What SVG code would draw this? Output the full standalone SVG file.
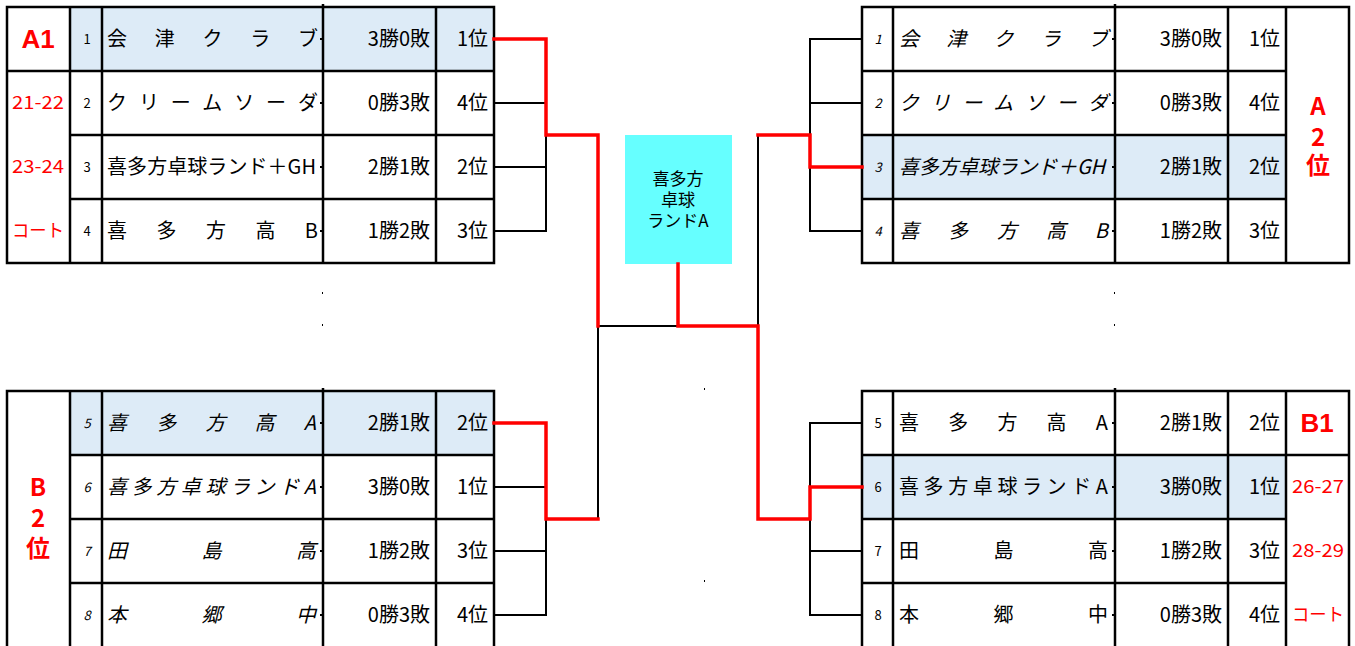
<svg xmlns="http://www.w3.org/2000/svg" width="1355" height="646" viewBox="0 0 1355 646">
<style>
.bg{fill:#FFFFFF}
.hl{fill:#DDEBF7}
.grid{stroke:#000;stroke-width:2.5;fill:none}
.c{stroke:#000;stroke-width:2;fill:none;stroke-linecap:square}
.r{stroke:#FF0000;stroke-width:3.5;fill:none;stroke-linecap:square;stroke-linejoin:miter}
.tick{fill:#000}
text{font-family:"Noto Sans CJK JP","Noto Sans",sans-serif;fill:#000}
.num{font-size:13px;text-anchor:middle}
.name{font-size:20px}
.res{font-size:20px;text-anchor:end}
.it{font-style:italic}
.big{font-size:24px;font-weight:bold;text-anchor:middle;fill:#FF0000}
.lbl{font-family:"Liberation Sans",Arial,sans-serif;font-size:26px;font-weight:bold;text-anchor:middle;fill:#FF0000}
.small{font-size:18px;text-anchor:middle;fill:#FF0000}
.box{fill:#66FFFF}
.boxt{font-size:17px;text-anchor:middle}
</style>
<rect class="bg" x="0" y="0" width="1355" height="646"/>

<g id="table-a-left">
  <rect class="hl" x="70" y="7" width="424" height="64"/>
  <rect class="grid" x="7" y="7" width="487" height="256"/>
  <path class="grid" d="M70 7V263M102 7V263M323 4V263M436 7V263M7 71H494M70 135H494M70 199H494"/>
  <g class="tick"><rect x="320" y="38" width="2" height="2"/><rect x="320" y="102" width="2" height="2"/><rect x="320" y="166" width="2" height="2"/><rect x="320" y="230" width="2" height="2"/></g>
  <text x="38" y="48" class="lbl">A1</text>
  <text x="38" y="109" class="small" textLength="52" lengthAdjust="spacingAndGlyphs">21-22</text>
  <text x="38" y="173" class="small" textLength="52" lengthAdjust="spacingAndGlyphs">23-24</text>
  <text x="38" y="237" class="small" textLength="52" lengthAdjust="spacingAndGlyphs">コート</text>
  <text x="87" y="44" class="num">1</text>
  <text x="87" y="108" class="num">2</text>
  <text x="87" y="172" class="num">3</text>
  <text x="87" y="236" class="num">4</text>
  <text x="107" y="46" class="name" textLength="211" lengthAdjust="spacing">会津クラブ</text>
  <text x="107" y="110" class="name" textLength="211" lengthAdjust="spacing">クリームソーダ</text>
  <text x="107" y="174" class="name" textLength="209" lengthAdjust="spacing">喜多方卓球ランド＋GH</text>
  <text x="107" y="238" class="name" textLength="211" lengthAdjust="spacing">喜多方高B</text>
  <text x="430" y="46" class="res">3勝0敗</text>
  <text x="430" y="110" class="res">0勝3敗</text>
  <text x="430" y="174" class="res">2勝1敗</text>
  <text x="430" y="238" class="res">1勝2敗</text>
  <text x="488" y="46" class="res">1位</text>
  <text x="488" y="110" class="res">4位</text>
  <text x="488" y="174" class="res">2位</text>
  <text x="488" y="238" class="res">3位</text>
</g>

<g id="table-a-right">
  <rect class="hl" x="862" y="135" width="424" height="64"/>
  <rect class="grid" x="862" y="7" width="487" height="256"/>
  <path class="grid" d="M893 7V263M1115 4V263M1228 7V263M1286 7V263M862 71H1286M862 135H1286M862 199H1286"/>
  <g class="tick"><rect x="1112" y="38" width="2" height="2"/><rect x="1112" y="102" width="2" height="2"/><rect x="1112" y="166" width="2" height="2"/><rect x="1112" y="230" width="2" height="2"/></g>
  <text x="1318" y="115" class="big">A</text>
  <text x="1318" y="146" class="big">2</text>
  <text x="1318" y="174" class="big">位</text>
  <text x="878" y="44" class="num it">1</text>
  <text x="878" y="108" class="num it">2</text>
  <text x="878" y="172" class="num it">3</text>
  <text x="878" y="236" class="num it">4</text>
  <text x="899" y="46" class="name it" textLength="209" lengthAdjust="spacing">会津クラブ</text>
  <text x="899" y="110" class="name it" textLength="209" lengthAdjust="spacing">クリームソーダ</text>
  <text x="899" y="174" class="name it" textLength="206" lengthAdjust="spacing">喜多方卓球ランド＋GH</text>
  <text x="899" y="238" class="name it" textLength="209" lengthAdjust="spacing">喜多方高B</text>
  <text x="1222" y="46" class="res">3勝0敗</text>
  <text x="1222" y="110" class="res">0勝3敗</text>
  <text x="1222" y="174" class="res">2勝1敗</text>
  <text x="1222" y="238" class="res">1勝2敗</text>
  <text x="1280" y="46" class="res">1位</text>
  <text x="1280" y="110" class="res">4位</text>
  <text x="1280" y="174" class="res">2位</text>
  <text x="1280" y="238" class="res">3位</text>
</g>

<g id="table-b-left">
  <rect class="hl" x="70" y="391" width="424" height="64"/>
  <rect class="grid" x="7" y="391" width="487" height="258"/>
  <path class="grid" d="M70 391V649M102 391V649M323 388V649M436 391V649M70 455H494M70 519H494M70 583H494"/>
  <g class="tick"><rect x="320" y="422" width="2" height="2"/><rect x="320" y="486" width="2" height="2"/><rect x="320" y="550" width="2" height="2"/><rect x="320" y="614" width="2" height="2"/></g>
  <text x="38" y="496" class="big">B</text>
  <text x="38" y="527" class="big">2</text>
  <text x="38" y="557" class="big">位</text>
  <text x="87" y="428" class="num it">5</text>
  <text x="87" y="492" class="num it">6</text>
  <text x="87" y="556" class="num it">7</text>
  <text x="87" y="620" class="num it">8</text>
  <text x="107" y="430" class="name it" textLength="209" lengthAdjust="spacing">喜多方高A</text>
  <text x="107" y="494" class="name it" textLength="209" lengthAdjust="spacing">喜多方卓球ランドA</text>
  <text x="107" y="558" class="name it" textLength="209" lengthAdjust="spacing">田島高</text>
  <text x="107" y="622" class="name it" textLength="209" lengthAdjust="spacing">本郷中</text>
  <text x="430" y="430" class="res">2勝1敗</text>
  <text x="430" y="494" class="res">3勝0敗</text>
  <text x="430" y="558" class="res">1勝2敗</text>
  <text x="430" y="622" class="res">0勝3敗</text>
  <text x="488" y="430" class="res">2位</text>
  <text x="488" y="494" class="res">1位</text>
  <text x="488" y="558" class="res">3位</text>
  <text x="488" y="622" class="res">4位</text>
</g>

<g id="table-b-right">
  <rect class="hl" x="862" y="455" width="424" height="64"/>
  <rect class="grid" x="862" y="391" width="487" height="258"/>
  <path class="grid" d="M893 391V649M1115 388V649M1228 391V649M1286 391V649M862 455H1349M862 519H1286M862 583H1286"/>
  <g class="tick"><rect x="1112" y="422" width="2" height="2"/><rect x="1112" y="486" width="2" height="2"/><rect x="1112" y="550" width="2" height="2"/><rect x="1112" y="614" width="2" height="2"/></g>
  <text x="1317" y="432" class="lbl">B1</text>
  <text x="1318" y="493" class="small" textLength="52" lengthAdjust="spacingAndGlyphs">26-27</text>
  <text x="1318" y="557" class="small" textLength="52" lengthAdjust="spacingAndGlyphs">28-29</text>
  <text x="1318" y="621" class="small" textLength="52" lengthAdjust="spacingAndGlyphs">コート</text>
  <text x="878" y="428" class="num">5</text>
  <text x="878" y="492" class="num">6</text>
  <text x="878" y="556" class="num">7</text>
  <text x="878" y="620" class="num">8</text>
  <text x="899" y="430" class="name" textLength="209" lengthAdjust="spacing">喜多方高A</text>
  <text x="899" y="494" class="name" textLength="209" lengthAdjust="spacing">喜多方卓球ランドA</text>
  <text x="899" y="558" class="name" textLength="209" lengthAdjust="spacing">田島高</text>
  <text x="899" y="622" class="name" textLength="209" lengthAdjust="spacing">本郷中</text>
  <text x="1222" y="430" class="res">2勝1敗</text>
  <text x="1222" y="494" class="res">3勝0敗</text>
  <text x="1222" y="558" class="res">1勝2敗</text>
  <text x="1222" y="622" class="res">0勝3敗</text>
  <text x="1280" y="430" class="res">2位</text>
  <text x="1280" y="494" class="res">1位</text>
  <text x="1280" y="558" class="res">3位</text>
  <text x="1280" y="622" class="res">4位</text>
</g>

<g id="winner">
  <rect class="box" x="625" y="135" width="107" height="129"/>
  <text x="678" y="185" class="boxt">喜多方</text>
  <text x="678" y="206" class="boxt">卓球</text>
  <text x="678" y="227" class="boxt">ランドA</text>
</g>

<g id="connectors">
  <path class="c" d="M494 103H546M494 167H546M494 231H546M546 135V231"/>
  <path class="c" d="M494 487H546M494 551H546M494 615H546M546 519V615"/>
  <path class="c" d="M598 326V519M598 326H678"/>
  <path class="c" d="M862 39H810M862 103H810M862 231H810M810 39V135M810 167V231M758 135V326"/>
  <path class="c" d="M862 423H810M862 551H810M862 615H810M810 423V487M810 519V615"/>
  <path class="r" d="M494 39H546V135H598V326"/>
  <path class="r" d="M494 423H546V519H598"/>
  <path class="r" d="M678 264V326H758V519H810V487H862"/>
  <path class="r" d="M758 135H810V167H862"/>
  <g class="tick"><rect x="322" y="292" width="1" height="2"/><rect x="322" y="324" width="1" height="2"/><rect x="1114" y="292" width="1" height="2"/><rect x="1114" y="324" width="1" height="2"/><rect x="704" y="388" width="1" height="2"/><rect x="704" y="580" width="1" height="2"/></g>
</g>
</svg>
